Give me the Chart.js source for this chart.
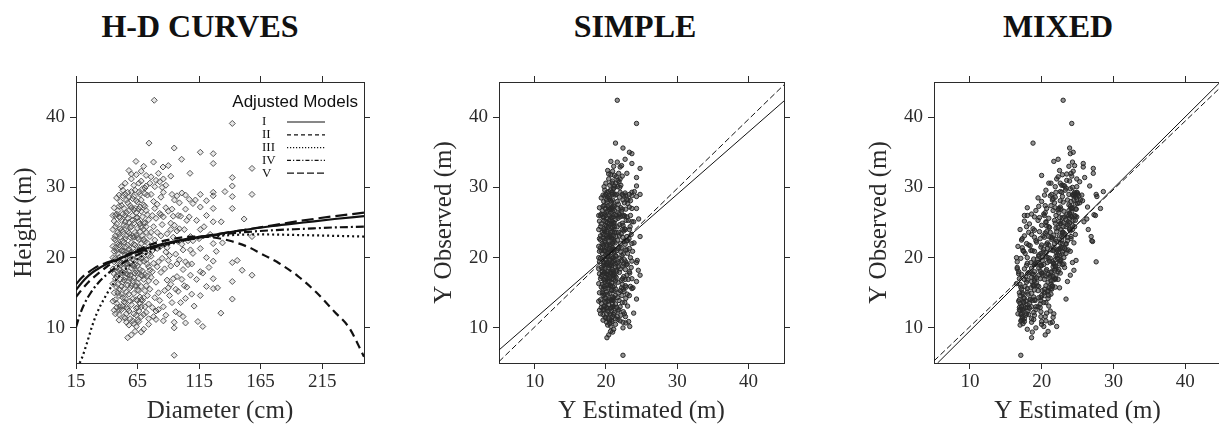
<!DOCTYPE html>
<html>
<head>
<meta charset="utf-8">
<script src="https://cdn.jsdelivr.net/npm/chart.js@4.4.1/dist/chart.umd.min.js"></script>
<style>
  html, body { margin: 0; padding: 0; background: #fff; }
  #page { position: relative; width: 1219px; height: 429px; overflow: hidden; }
  canvas { position: absolute; top: 0; }
  .ttl {
    position: absolute; top: 8px; line-height: 32px; white-space: nowrap;
    font: bold 32px "Liberation Serif", "Times New Roman", serif; color: #111;
    transform: translateX(-50%);
  }
</style>
</head>
<body>
<div id="page">
  <div class="ttl" style="left:200px">H-D CURVES</div>
  <div class="ttl" style="left:635px">SIMPLE</div>
  <div class="ttl" style="left:1058px">MIXED</div>
  <canvas id="hdChart" width="400" height="429" style="left:0"></canvas>
  <canvas id="simpleChart" width="390" height="429" style="left:420px"></canvas>
  <canvas id="mixedChart" width="392" height="429" style="left:855px"></canvas>
</div>
<script>
// ===== H-D curves / observed vs estimated heights =====

// --- observed trees (same trees in every panel) ---
const diameter = [
  47,49,52,55,58,61,64,67,70,73,
  46,48,51,54,57,60,63,66,69,72,
  45,48,50,53,56,59,62,65,68,74,
  47,49,52,55,58,61,64,67,70,73,
  46,50,53,56,59,62,65,68,71,74,
  45,48,51,54,57,60,63,66,69,72,
  47,50,52,55,58,61,64,67,70,75,
  46,49,52,55,58,61,64,67,70,73,
  48,51,53,56,59,62,65,68,71,74,
  45,47,50,54,57,60,63,66,69,72,
  46,49,51,54,57,60,62,65,68,71,
  47,50,53,56,59,62,65,68,71,74,
  45,48,51,55,58,61,64,67,70,73,
  49,52,54,57,60,63,66,69,72,75,
  46,51,53,56,59,62,65,68,71,74,
  77,80,83,86,89,92,95,98,101,104,
  76,79,82,85,88,91,94,97,100,106,
  78,81,84,87,90,93,96,99,103,108,
  76,79,82,85,88,91,94,97,102,107,
  77,80,83,86,89,92,96,99,105,109,
  78,81,84,87,90,94,98,102,106,110,
  76,80,85,88,93,97,101,104,108,110,
  116,126.5,126.5,126.5,126.5,126.5,126.5,126.5,126.5,126.5,
  126.5,116,116,116,116,116,116,121,121,121,
  133,136,132.7,118,114,142,142,142,142,142,
  142,146,150,142,142,151.6,158,158,158,158,
  78.6,74.3,94.8,100.8,63.7,107.6,85.7,94.8,94.8,94.8,
  104,57,60,63,64,56,54,72,68,80,
  60,66,52,88,104,110,98,92,84,72,
  58,70,75,82,86,90,64,56,66,70,
  48,53,57,61,64,67,69,72,75,78,
  50,55,59,62,65,68,71,74,77,81,
  49,51,54,56,58,60,62,64,66,68,
  45,47,50,53,55,57,59,63,66,69,
  46,48,51,53,56,58,61,64,67,70,
  47,50,52,55,57,60,63,65,68,71,
  45,48,51,54,57,59,62,65,67,70,
  46,49,52,55,58,61,63,66,69,72,
  48,50,53,56,58,61,64,67,70,73,
  45,47,50,53,56,59,62,65,68,71,
  47,49,52,54,57,60,62,65,68,72,
  46,50,52,55,58,61,64,66,70,73,
  76,79,82,84,87,89,92,95,97,100,
  77,79,81,83,86,90,93,96,99,102,
  103,105,107,109,112,113,115,119,123,129,
  101,104,108,111,113,118,121,124,130,134,
  55,62,68,76,83,50,59,65,74,80,
  53,60,71,78,92,58,68,78,86,99
];

const heightObs = [
  22.5,18.0,25.3,14.2,20.6,28.4,12.8,23.7,16.9,26.1,
  19.4,13.5,21.7,27.0,16.1,24.4,19.0,29.3,13.9,21.2,
  16.3,24.8,11.9,19.8,23.1,17.5,26.8,15.4,22.0,18.7,
  26.0,15.0,17.8,29.0,12.4,21.3,25.7,18.3,27.5,14.6,
  20.9,23.3,13.1,26.4,15.7,19.6,22.8,11.6,24.9,20.3,
  24.0,17.3,28.0,22.2,19.1,13.3,23.6,17.0,29.8,16.0,
  14.0,20.0,23.9,17.2,25.0,11.0,20.7,27.2,19.5,23.0,
  12.5,26.7,15.9,20.4,28.6,16.7,18.1,14.4,22.6,28.9,
  21.0,18.9,26.2,12.0,22.9,14.9,27.9,19.9,15.3,25.4,
  21.6,17.0,15.5,24.6,21.8,18.5,29.6,21.1,25.8,12.2,
  15.0,23.6,13.0,18.5,27.8,22.1,10.6,18.9,24.3,17.6,
  19.9,27.3,16.5,21.5,13.8,24.9,16.4,28.2,20.8,16.7,
  13.8,28.5,19.2,11.4,18.0,26.0,14.0,21.4,11.9,22.1,
  20.6,12.6,15.6,23.7,29.4,17.8,25.1,17.4,26.7,18.2,
  25.2,22.9,28.8,17.7,20.1,12.0,24.2,15.9,29.1,13.4,
  21.0,16.5,26.3,13.0,23.4,18.8,28.2,15.2,21.9,26.9,
  29.0,14.3,19.4,24.7,11.8,20.3,25.9,17.3,13.6,19.0,
  24.4,27.6,17.9,22.0,15.7,29.0,20.5,24.1,16.0,23.0,
  17.2,22.5,12.6,19.9,27.1,14.6,22.9,28.8,18.3,28.3,
  12.9,25.6,21.5,29.3,16.8,24.9,12.3,19.7,25.3,14.8,
  28.0,18.7,23.1,15.3,26.6,17.0,26.0,11.6,22.4,27.7,
  20.2,11.2,30.0,20.8,13.6,23.8,29.2,14.2,17.5,20.6,
  35.0,34.8,33.4,29.3,28.8,27.0,25.1,22.0,19.5,17.0,
  15.6,29.0,27.2,24.0,21.3,18.0,14.6,26.0,20.0,15.9,
  25.1,29.4,12.1,10.2,10.9,39.1,31.4,30.2,28.7,27.0,
  19.3,19.6,18.2,16.6,14.1,25.5,32.7,29.0,23.0,17.5,
  42.4,36.3,35.6,34.0,33.7,32.0,32.9,6.1,10.8,10.0,
  10.7,8.6,9.0,9.5,10.2,10.8,11.5,31.7,32.3,31.0,
  31.2,30.6,30.1,30.3,19.4,22.4,22.3,24.0,26.1,30.2,
  32.4,33.0,30.6,32.0,31.2,33.1,31.8,12.9,10.9,9.8,
  18.6,21.0,25.6,19.8,23.2,13.5,20.0,24.4,15.5,19.2,
  25.8,13.6,27.4,21.9,12.9,26.6,22.3,11.3,26.0,23.6,
  16.2,24.1,20.9,15.1,23.5,27.1,17.1,28.1,22.6,13.0,
  18.4,23.1,14.6,22.4,26.0,12.7,19.3,16.0,26.9,18.1,
  27.1,15.8,16.9,23.7,19.2,14.8,23.0,11.8,24.8,25.0,
  21.4,18.4,27.4,22.7,17.6,20.8,27.0,20.1,17.5,27.3,
  26.0,12.9,25.7,13.7,29.3,24.3,18.8,13.9,19.3,14.3,
  17.7,22.0,19.3,25.1,16.6,14.1,21.8,15.3,23.1,19.7,
  26.2,21.8,17.9,28.2,21.2,25.3,16.0,29.0,21.2,17.4,
  20.0,12.0,28.9,14.3,24.5,17.0,22.9,25.7,21.0,13.0,
  24.4,17.6,21.0,16.8,20.2,16.0,28.7,17.8,14.0,23.6,
  22.7,12.6,14.8,19.0,26.7,18.9,26.4,12.4,24.0,19.1,
  23.6,27.0,15.0,28.6,18.4,21.4,16.2,24.6,19.1,25.9,
  18.0,30.1,21.3,13.9,25.8,19.6,26.9,15.5,27.8,21.1,
  24.0,15.8,25.8,19.1,28.2,16.9,22.7,24.4,18.6,20.9,
  16.9,28.9,21.1,13.1,25.3,17.8,28.1,23.3,15.7,22.1,
  30.6,30.3,30.9,31.5,30.8,11.1,11.3,11.1,10.5,12.4,
  29.6,31.9,29.9,33.6,31.6,10.4,9.4,11.6,11.0,12.0
];

// estimated height, simple (fixed) model
const simpleEst = [
  19.25,19.5,19.75,20.0,20.25,20.5,20.7,20.9,21.1,21.3,
  19.1,19.35,19.7,19.9,20.15,20.4,20.65,20.85,21.05,21.2,
  19.0,19.35,19.6,19.85,20.1,20.3,20.55,20.8,20.95,21.35,
  19.25,19.5,19.75,20.0,20.25,20.5,20.7,20.9,21.1,21.3,
  19.1,19.6,19.85,20.1,20.3,20.55,20.8,20.95,21.15,21.35,
  19.0,19.35,19.7,19.9,20.15,20.4,20.65,20.85,21.05,21.2,
  19.25,19.6,19.75,20.0,20.25,20.5,20.7,20.9,21.1,21.4,
  19.1,19.5,19.75,20.0,20.25,20.5,20.7,20.9,21.1,21.3,
  19.35,19.7,19.85,20.1,20.3,20.55,20.8,20.95,21.15,21.35,
  19.0,19.25,19.6,19.9,20.15,20.4,20.65,20.85,21.05,21.2,
  19.1,19.5,19.7,19.9,20.15,20.4,20.55,20.8,20.95,21.15,
  19.25,19.6,19.85,20.1,20.3,20.55,20.8,20.95,21.15,21.35,
  19.0,19.35,19.7,20.0,20.25,20.5,20.7,20.9,21.1,21.3,
  19.5,19.75,19.9,20.15,20.4,20.65,20.85,21.05,21.2,21.4,
  19.1,19.7,19.85,20.1,20.3,20.55,20.8,20.95,21.15,21.35,
  21.5,21.7,21.85,22.0,22.15,22.3,22.4,22.55,22.7,22.8,
  21.45,21.65,21.8,21.95,22.1,22.25,22.35,22.5,22.65,22.9,
  21.6,21.75,21.9,22.05,22.2,22.3,22.45,22.6,22.75,22.95,
  21.45,21.65,21.8,21.95,22.1,22.25,22.35,22.5,22.75,22.95,
  21.5,21.7,21.85,22.0,22.15,22.3,22.45,22.6,22.85,23.0,
  21.6,21.75,21.9,22.05,22.2,22.35,22.55,22.75,22.9,23.05,
  21.45,21.7,21.95,22.1,22.3,22.5,22.7,22.8,22.95,23.05,
  23.3,23.65,23.65,23.65,23.65,23.65,23.65,23.65,23.65,23.65,
  23.65,23.3,23.3,23.3,23.3,23.3,23.3,23.45,23.45,23.45,
  23.9,24.0,23.9,23.35,23.2,24.3,24.3,24.3,24.3,24.3,
  24.3,24.4,24.55,24.3,24.3,24.6,24.8,24.8,24.8,24.8,
  21.6,21.35,22.4,22.7,20.7,22.95,22.0,22.4,22.4,22.4,
  22.8,20.15,20.4,20.65,20.7,20.1,19.9,21.2,20.95,21.7,
  20.4,20.85,19.75,22.1,22.8,23.05,22.55,22.3,21.9,21.2,
  20.25,21.1,21.4,21.8,22.0,22.2,20.7,20.1,20.85,21.1,
  19.35,19.85,20.15,20.5,20.7,20.9,21.05,21.2,21.4,21.6,
  19.6,20.0,20.3,20.55,20.8,20.95,21.15,21.35,21.5,21.75,
  19.5,19.7,19.9,20.1,20.25,20.4,20.55,20.7,20.85,20.95,
  19.0,19.25,19.6,19.85,20.0,20.15,20.3,20.65,20.85,21.05,
  19.1,19.35,19.7,19.85,20.1,20.25,20.5,20.7,20.9,21.1,
  19.25,19.6,19.75,20.0,20.15,20.4,20.65,20.8,20.95,21.15,
  19.0,19.35,19.7,19.9,20.15,20.3,20.55,20.8,20.9,21.1,
  19.1,19.5,19.75,20.0,20.25,20.5,20.65,20.85,21.05,21.2,
  19.35,19.6,19.85,20.1,20.25,20.5,20.7,20.9,21.1,21.3,
  19.0,19.25,19.6,19.85,20.1,20.3,20.55,20.8,20.95,21.15,
  19.25,19.5,19.75,19.9,20.15,20.4,20.55,20.8,20.95,21.2,
  19.1,19.6,19.75,20.0,20.25,20.5,20.7,20.85,21.1,21.3,
  21.45,21.65,21.8,21.9,22.05,22.15,22.3,22.4,22.5,22.65,
  21.5,21.65,21.75,21.85,22.0,22.2,22.3,22.45,22.6,22.75,
  22.75,22.85,22.95,23.0,23.1,23.15,23.25,23.4,23.55,23.75,
  22.7,22.8,22.95,23.05,23.15,23.35,23.45,23.55,23.8,23.95,
  20.0,20.55,20.95,21.45,21.85,19.6,20.3,20.8,21.35,21.7,
  19.85,20.4,21.15,21.6,22.3,20.25,20.95,21.6,22.0,22.6
];

// estimated height, mixed model
const mixedEst = [
  17.2,16.8,19.5,17.6,19.9,21.6,18.3,22.1,20.4,23.5,
  16.6,17.0,18.4,20.7,18.8,21.0,20.3,22.8,19.1,22.4,
  16.5,18.3,17.1,18.9,20.2,19.6,22.3,19.0,21.8,21.9,
  18.0,17.3,18.1,21.4,17.4,20.8,22.9,20.7,23.8,20.0,
  17.5,18.6,17.2,20.5,18.5,20.1,21.5,17.3,22.7,22.2,
  17.0,17.8,20.0,19.3,19.2,18.0,21.2,19.8,24.0,20.6,
  16.9,18.0,19.0,18.6,20.6,17.1,20.6,22.6,21.1,22.8,
  17.0,19.2,17.7,19.6,21.9,19.0,19.8,18.9,22.0,24.3,
  17.4,17.9,20.3,17.2,20.4,18.6,23.0,21.2,20.1,23.4,
  16.7,16.9,17.2,20.0,20.0,19.6,23.3,21.3,23.2,18.9,
  16.9,18.2,17.2,18.6,21.8,20.8,17.4,19.9,22.3,20.9,
  17.1,19.6,17.9,19.9,17.8,21.9,19.3,23.6,22.0,21.3,
  16.8,19.5,18.0,17.3,19.0,22.0,18.4,21.6,18.2,22.6,
  17.7,17.3,18.0,20.7,22.6,20.0,22.4,20.5,23.8,21.8,
  17.6,19.0,21.2,18.7,20.1,17.9,22.0,19.6,24.6,19.8,
  22.2,20.9,23.9,19.5,23.2,21.9,24.5,20.8,23.4,24.8,
  24.4,19.9,21.5,23.6,19.0,22.5,24.1,21.6,20.6,22.9,
  23.4,24.7,21.3,22.9,21.0,25.0,22.8,23.9,21.5,24.1,
  21.1,22.8,19.2,22.2,24.2,20.4,23.6,25.2,22.4,24.9,
  19.8,23.9,22.7,24.6,21.6,23.9,19.9,22.7,24.4,21.3,
  24.1,21.6,23.2,20.9,24.2,21.8,24.6,19.9,23.6,25.0,
  22.0,18.9,24.3,22.9,20.3,24.0,25.0,20.9,22.0,23.4,
  24.4,24.0,25.8,24.9,24.5,24.1,23.7,23.4,22.5,21.9,
  21.3,24.7,26.4,23.9,23.2,22.3,21.0,27.5,23.1,21.5,
  25.9,28.6,20.7,20.3,20.0,24.2,26.0,26.7,27.7,28.2,
  24.3,24.8,24.5,23.6,23.4,26.3,27.2,27.6,26.9,24.0,
  23.0,18.8,23.9,22.3,21.7,27.2,25.8,17.1,18.6,19.2,
  21.2,18.6,20.5,20.9,22.1,21.5,21.6,20.0,24.4,23.5,
  22.1,21.0,21.9,23.0,27.6,27.0,27.1,26.5,27.3,23.2,
  22.5,23.8,22.6,24.1,24.9,24.6,22.9,17.8,17.6,18.0,
  16.6,18.5,21.0,19.4,21.7,18.3,20.9,23.0,20.4,21.7,
  19.0,17.5,21.3,20.7,18.0,23.1,22.1,18.6,23.8,23.0,
  17.0,18.8,19.0,18.0,20.5,21.9,19.3,22.6,21.4,18.6,
  16.6,17.6,17.0,19.2,20.4,17.5,19.5,19.0,22.7,20.6,
  18.0,17.1,17.6,19.7,19.1,18.1,21.0,17.8,22.6,23.0,
  17.3,17.6,20.5,19.8,18.9,20.2,22.4,20.6,20.2,24.0,
  17.6,16.9,19.7,17.5,22.0,21.1,19.9,18.7,20.8,19.6,
  16.8,17.9,18.5,20.6,18.6,18.4,21.0,19.5,22.5,21.9,
  18.6,18.2,18.3,21.5,20.3,21.8,19.4,23.8,22.1,21.2,
  16.5,16.7,20.4,17.5,20.7,19.0,21.3,22.5,21.6,19.2,
  17.9,17.2,18.7,18.0,19.6,18.8,22.9,20.0,19.0,22.9,
  17.3,16.9,17.4,19.0,21.6,20.0,22.4,18.1,22.7,21.7,
  22.9,24.3,20.4,24.8,22.0,22.9,21.3,24.3,22.5,24.7,
  21.4,24.9,22.6,19.9,24.2,22.6,24.8,21.4,25.3,23.4,
  24.3,21.9,24.9,23.1,25.4,22.3,24.1,24.6,23.2,24.0,
  21.9,25.6,23.7,21.0,24.7,22.6,25.7,24.7,22.5,24.5,
  21.3,22.8,23.9,22.3,25.3,17.2,17.6,17.4,20.0,21.2,
  20.6,23.5,23.4,24.3,24.2,17.0,18.7,20.5,20.6,21.7
];

// --- fitted H-D models ---
const modelNames = ['I', 'II', 'III', 'IV', 'V'];
const curveI_d   = [15,20,25,30,40,50,65,80,100,125,150,175,200,225,249];
const curveI_h   = [15.4,16.5,17.4,18.1,19.1,19.8,20.9,21.7,22.5,23.2,23.9,24.5,25.0,25.5,25.9];
const curveII_d  = [15,20,25,30,40,50,65,80,95,110,125,140,155,165,180,195,210,225,237,249];
const curveII_h  = [14.4,15.5,16.5,17.3,18.7,19.8,21.1,22.1,22.7,23.0,22.9,22.4,21.5,20.6,19.2,17.4,15.1,12.3,10.0,5.9];
const curveIII_d = [18,20,24,28,32,38,45,55,65,80,100,120,140,165,200,249];
const curveIII_h = [5.0,5.8,7.9,10.2,12.1,14.2,16.2,18.3,19.8,21.2,22.3,22.9,23.2,23.3,23.2,23.0];
const curveIV_d  = [15,18,22,27,33,40,50,65,80,100,125,150,175,200,225,249];
const curveIV_h  = [10.1,11.8,13.5,15.0,16.4,17.6,18.9,20.4,21.5,22.4,23.1,23.6,23.9,24.1,24.3,24.4];
const curveV_d   = [15,20,25,30,40,50,65,80,100,125,150,175,200,225,249];
const curveV_h   = [16.2,17.2,17.9,18.5,19.3,19.9,20.8,21.6,22.4,23.2,23.9,24.6,25.3,25.9,26.4];

// --- regression (solid) and 1:1 (dashed) lines ---
const simpleFit_x = [5, 45];
const simpleFit_y = [6.85, 42.3];
const simpleRef_x = [5, 45];
const simpleRef_y = [5.2, 44.6];
const mixedFit_x  = [5.5, 45];
const mixedFit_y  = [5.0, 45.1];
const mixedRef_x  = [5, 45];
const mixedRef_y  = [5.3, 44.3];

// --- axes ---
const diamTicks   = [15, 65, 115, 165, 215];
const heightTicks = [10, 20, 30, 40];
const estTicks    = [10, 20, 30, 40];

const SERIF = '"Liberation Serif", "Times New Roman", serif';
const INK = '#2b2b2b';

const toXY = (xs, ys) => xs.map((x, i) => ({ x, y: ys[i] }));

function boxScales(cfg) {
  const tickFont = { family: SERIF, size: 19 };
  const titleFont = { family: SERIF, size: 25 };
  const axis = (min, max, vals) => ({
    type: 'linear',
    min, max,
    afterBuildTicks: scale => { scale.ticks = vals.map(v => ({ value: v })); },
    grid: { drawOnChartArea: false, drawTicks: true, tickLength: 6, color: INK, lineWidth: 1 },
    border: { display: true, color: INK, width: 1 }
  });
  return {
    x: {
      ...axis(cfg.xMin, cfg.xMax, cfg.xTicks),
      position: 'bottom',
      ticks: { font: tickFont, color: INK, padding: 2, maxRotation: 0, autoSkip: false },
      title: { display: true, text: cfg.xTitle, font: titleFont, color: INK, padding: { top: 0, bottom: 3 } },
      afterFit: s => { s.height = 66; }
    },
    x2: {
      ...axis(cfg.xMin, cfg.xMax, cfg.xTicks),
      position: 'top',
      ticks: { display: false },
      afterFit: s => { s.height = 82; }
    },
    y: {
      ...axis(5, 45, heightTicks),
      position: 'left',
      ticks: { font: tickFont, color: INK, padding: 5, autoSkip: false },
      title: { display: true, text: cfg.yTitle, font: titleFont, color: INK, padding: { top: 9, bottom: 0 } },
      afterFit: s => { s.width = cfg.left; }
    },
    y2: {
      ...axis(5, 45, heightTicks),
      position: 'right',
      ticks: { display: false },
      afterFit: s => { s.width = cfg.right; }
    }
  };
}

const baseOptions = scales => ({
  responsive: false,
  animation: false,
  devicePixelRatio: 1,
  events: [],
  layout: { padding: 0 },
  plugins: { legend: { display: false }, tooltip: { enabled: false }, title: { display: false } },
  scales
});

const lineSet = (data, dash, width) => ({
  data,
  showLine: true,
  borderColor: '#111',
  borderWidth: width,
  borderDash: dash,
  pointRadius: 0,
  fill: false,
  cubicInterpolationMode: 'monotone',
  order: 0
});

// legend drawn inside the H-D panel (text left, line sample right)
const legendDash = [[], [4, 3], [1.2, 1.8], [4, 2, 1.2, 2], [7, 3]];
const adjustedModelsLegend = {
  id: 'adjustedModelsLegend',
  afterDatasetsDraw(chart) {
    const { ctx, chartArea } = chart;
    ctx.save();
    ctx.fillStyle = '#111';
    ctx.strokeStyle = '#111';
    ctx.textBaseline = 'middle';
    ctx.font = '17px "Liberation Sans", Arial, sans-serif';
    ctx.textAlign = 'right';
    ctx.fillText('Adjusted Models', chartArea.right - 6, chartArea.top + 20);
    ctx.font = '13px ' + SERIF;
    ctx.textAlign = 'left';
    ctx.lineWidth = 1.2;
    modelNames.forEach((name, i) => {
      const y = chartArea.top + 40 + i * 12.8;
      ctx.fillText(name, chartArea.left + 186, y);
      ctx.setLineDash(legendDash[i]);
      ctx.beginPath();
      ctx.moveTo(chartArea.left + 211, y);
      ctx.lineTo(chartArea.left + 249, y);
      ctx.stroke();
    });
    ctx.restore();
  }
};

// Panel 1: H-D curves
new Chart(document.getElementById('hdChart'), {
  type: 'scatter',
  data: {
    datasets: [
      lineSet(toXY(curveI_d, curveI_h), [], 2.2),
      lineSet(toXY(curveII_d, curveII_h), [8, 5], 2.2),
      lineSet(toXY(curveIII_d, curveIII_h), [2, 3], 2.2),
      lineSet(toXY(curveIV_d, curveIV_h), [8, 3, 2, 3], 2.2),
      lineSet(toXY(curveV_d, curveV_h), [12, 5], 2.2),
      {
        data: toXY(diameter, heightObs),
        pointStyle: 'rectRot',
        pointRadius: 3,
        borderWidth: 1,
        borderColor: '#555',
        backgroundColor: 'rgba(80,80,80,0.14)',
        order: 1
      }
    ]
  },
  options: baseOptions(boxScales({
    xMin: 15, xMax: 249, xTicks: diamTicks,
    xTitle: 'Diameter (cm)', yTitle: 'Height (m)', left: 76, right: 36
  })),
  plugins: [adjustedModelsLegend]
});

const obsSet = xs => ({
  data: toXY(xs, heightObs),
  pointStyle: 'circle',
  pointRadius: 2.2,
  borderWidth: 1,
  borderColor: '#2a2a2a',
  backgroundColor: 'rgba(40,40,40,0.5)',
  order: 1
});

// Panel 2: simple model
new Chart(document.getElementById('simpleChart'), {
  type: 'scatter',
  data: {
    datasets: [
      lineSet(toXY(simpleFit_x, simpleFit_y), [], 1),
      lineSet(toXY(simpleRef_x, simpleRef_y), [6, 3], 1),
      obsSet(simpleEst)
    ]
  },
  options: baseOptions(boxScales({
    xMin: 5, xMax: 45, xTicks: estTicks,
    xTitle: 'Y Estimated (m)', yTitle: 'Y Observed (m)', left: 79, right: 26
  }))
});

// Panel 3: mixed model
new Chart(document.getElementById('mixedChart'), {
  type: 'scatter',
  data: {
    datasets: [
      lineSet(toXY(mixedFit_x, mixedFit_y), [], 1),
      lineSet(toXY(mixedRef_x, mixedRef_y), [6, 3], 1),
      obsSet(mixedEst)
    ]
  },
  options: baseOptions(boxScales({
    xMin: 5, xMax: 45, xTicks: estTicks,
    xTitle: 'Y Estimated (m)', yTitle: 'Y Observed (m)', left: 79, right: 26
  }))
});
</script>
</body>
</html>
